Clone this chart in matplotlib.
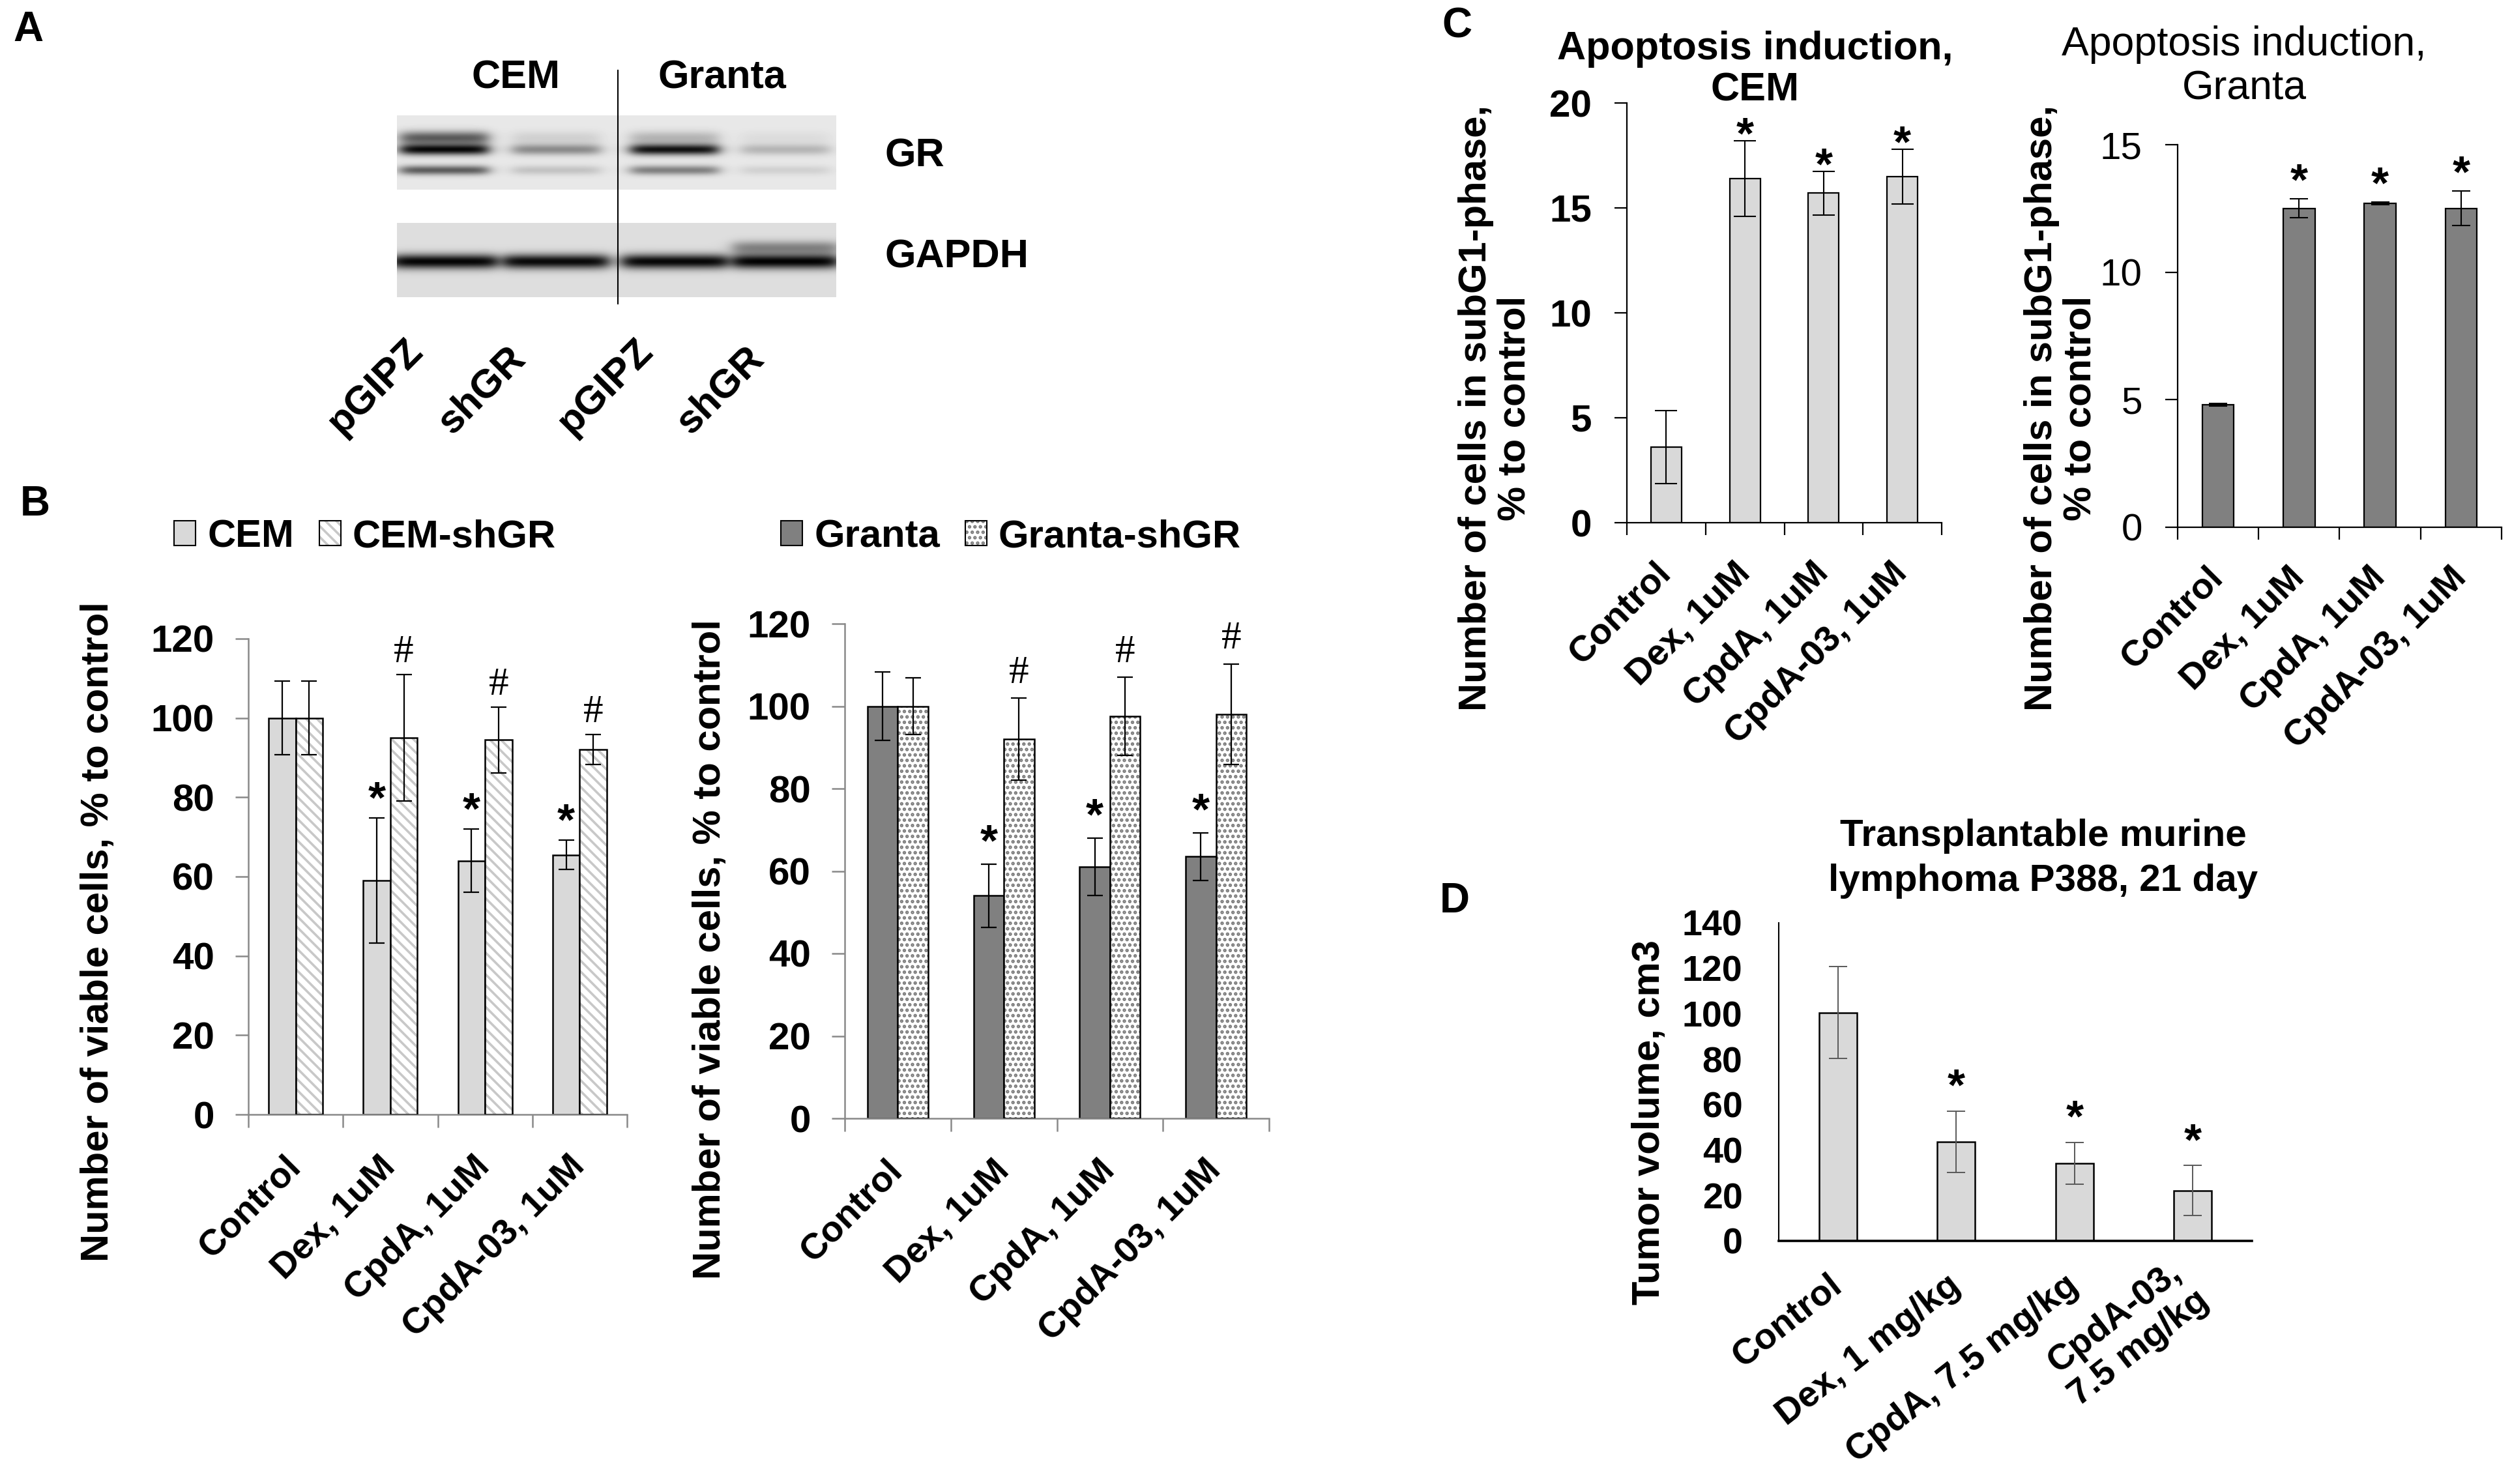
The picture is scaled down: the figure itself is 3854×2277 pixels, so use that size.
import numpy as np
import matplotlib
matplotlib.use("Agg")
import matplotlib.pyplot as plt
from matplotlib.patches import Patch
from matplotlib.lines import Line2D

# ---------------- data ----------------
# A: western blot (band darkness per lane, 0..1)
blot_lanes = ['pGIPZ', 'shGR', 'pGIPZ', 'shGR']
blot_groups = ['CEM', 'Granta']
gr_main = [0.95, 0.40, 0.92, 0.22]
gr_upper = [0.60, 0.10, 0.22, 0.05]
gr_lower = [0.60, 0.16, 0.45, 0.10]
gapdh_band = [0.98, 0.96, 0.97, 0.99]
gapdh_smudge = [0.0, 0.0, 0.0, 0.40]

# B: viability
treatments = ['Control', 'Dex, 1uM', 'CpdA, 1uM', 'CpdA-03, 1uM']
cem_viable = [100, 59, 64, 65.5]
cem_viable_err = [9.3, 15.8, 8.0, 3.7]
cem_sh_viable = [100, 95, 94.5, 92]
cem_sh_viable_err = [9.3, 16.0, 8.3, 3.8]
granta_viable = [100, 54, 61, 63.5]
granta_viable_err = [8.3, 7.7, 7.0, 5.8]
granta_sh_viable = [100, 92, 97.5, 98]
granta_sh_viable_err = [6.9, 9.9, 9.5, 12.2]
star_marks = ['', '*', '*', '*']
hash_marks = ['', '#', '#', '#']

# C: apoptosis
cem_apo = [3.6, 16.4, 15.7, 16.5]
cem_apo_err = [1.75, 1.8, 1.05, 1.3]
granta_apo = [4.8, 12.5, 12.7, 12.5]
granta_apo_err = [0.05, 0.37, 0.05, 0.68]

# D: tumour volume
tumor_groups = ['Control', 'Dex, 1 mg/kg', 'CpdA, 7.5 mg/kg', 'CpdA-03,\n7.5 mg/kg']
tumor_volume = [100.5, 43.6, 34.1, 22.2]
tumor_err = [20.3, 13.6, 9.2, 11.0]

# ---------------- figure ----------------
plt.rcParams['font.family'] = ['Liberation Sans', 'DejaVu Sans']
plt.rcParams['hatch.linewidth'] = 2.6

W, H = 3855, 2277
fig = plt.figure(figsize=(W / 100, H / 100), dpi=100)
fig.patch.set_facecolor('white')


def fx(x):
    return x / W


def fy(y):
    return 1 - y / H


def box(x0, y0, x1, y1):
    return [x0 / W, 1 - y1 / H, (x1 - x0) / W, (y1 - y0) / H]


LIGHT = '#d9d9d9'
DARK = '#808080'

# panel letters
for letter, (px, py) in zip('ABCD', [(43, 46), (54, 774), (2235, 41), (2232, 1383)]):
    fig.text(fx(px), fy(py), letter, ha='center', va='center', fontsize=46, weight='bold')


# ---------------- A: blot ----------------
def blot_image(bands, half_w, bg, ny=114, nx=674):
    lane_x = [0.43, 1.45, 2.53, 3.54]
    yy = np.linspace(0, 1, ny)[:, None]
    xx = np.linspace(0, 4, nx)[None, :]
    dark = np.zeros((ny, nx))
    for row, sigma, levels in bands:
        for cx, lev in zip(lane_x, levels):
            lane = 1 / (1 + np.exp((np.abs(xx - cx) - half_w) / 0.04))
            dark += lev * lane * np.exp(-((yy - row) / sigma) ** 2)
    return bg * (1 - np.clip(dark, 0, 1))


gr_img = blot_image([(0.46, 0.075, gr_main), (0.30, 0.09, gr_upper), (0.74, 0.065, gr_lower)], 0.40, 0.91)
gapdh_img = blot_image([(0.52, 0.10, gapdh_band), (0.33, 0.09, gapdh_smudge)], 0.48, 0.87)

for img, rect in [(gr_img, box(609, 177, 1283, 291)), (gapdh_img, box(609, 342, 1283, 456))]:
    bax = fig.add_axes(rect)
    bax.imshow(img, cmap='gray', vmin=0, vmax=1, aspect='auto', interpolation='bilinear')
    bax.axis('off')

fig.add_artist(Line2D([fx(948), fx(948)], [fy(108), fy(466)], color='black', lw=1.5))
fig.text(fx(792), fy(120), blot_groups[0], ha='center', va='center', fontsize=44, weight='bold')
fig.text(fx(1108), fy(120), blot_groups[1], ha='center', va='center', fontsize=44, weight='bold')
fig.text(fx(1358), fy(240), 'GR', ha='left', va='center', fontsize=44, weight='bold')
fig.text(fx(1358), fy(395), 'GAPDH', ha='left', va='center', fontsize=44, weight='bold')
for lab, sx in zip(blot_lanes, [524, 694, 877, 1060]):
    fig.text(fx(sx), fy(668), lab, ha='left', va='baseline', rotation=45,
             rotation_mode='anchor', fontsize=44, weight='bold')


# ---------------- helpers ----------------
def style_axes(ax, ncat, spine_color, lw, tick_len, label_pad):
    for s in ['top', 'right']:
        ax.spines[s].set_visible(False)
    for s in ['left', 'bottom']:
        ax.spines[s].set_color(spine_color)
        ax.spines[s].set_linewidth(lw)
    ax.set_xlim(-0.5, ncat - 0.5)
    ax.set_xticks(np.arange(ncat + 1) - 0.5)
    ax.tick_params(axis='x', which='major', length=tick_len, width=lw, color=spine_color,
                   labelbottom=False)
    ax.tick_params(axis='y', length=tick_len, width=lw, color=spine_color, pad=label_pad)


def put_marks(ax, xs, ys, marks, fs, family, weight, center):
    for xi, yi, m in zip(xs, ys, marks):
        if m:
            ax.annotate(m, (xi, yi), xytext=(0, -center * fs), textcoords='offset points',
                        ha='center', va='baseline', fontsize=fs, family=family, weight=weight,
                        annotation_clip=False)


def two_line_title(cx, y1, y2, l1, l2, fs, weight):
    fig.text(fx(cx), fy(y1), l1, ha='center', va='center', fontsize=fs, weight=weight)
    fig.text(fx(cx), fy(y2), l2, ha='center', va='center', fontsize=fs, weight=weight)


# ---------------- B: viability ----------------
x = np.arange(len(treatments))
w = 0.285
GREY_SPINE = '#898989'


def viability(rect, a, a_err, b, b_err, a_color, b_hatch, b_hatch_color, names, ylab_x, ylab_y,
              leg_x, star_off, hash_off):
    ax = fig.add_axes(rect)
    ax.bar(x - w / 2, a, w, color=a_color, edgecolor='black', linewidth=1.8, zorder=2)
    ax.bar(x + w / 2, b, w, color='white', edgecolor=b_hatch_color, hatch=b_hatch, linewidth=0, zorder=2)
    ax.bar(x + w / 2, b, w, color='none', edgecolor='black', linewidth=1.8, zorder=3)
    ax.errorbar(x - w / 2, a, yerr=a_err, fmt='none', ecolor='black', elinewidth=1.6,
                capsize=8.5, capthick=1.6, zorder=4)
    ax.errorbar(x + w / 2, b, yerr=b_err, fmt='none', ecolor='black', elinewidth=1.6,
                capsize=8.5, capthick=1.6, zorder=4)
    ax.set_ylim(0, 120)
    ax.set_yticks(range(0, 121, 20))
    style_axes(ax, len(treatments), GREY_SPINE, 1.8, 14.5, 23)
    ax.set_xticks(x, treatments, minor=True, rotation=45, ha='right', va='center',
                  rotation_mode='anchor', fontsize=40, weight='bold')
    ax.tick_params(axis='x', which='minor', length=0, pad=52)
    for t in ax.get_yticklabels():
        t.set_fontsize(42)
        t.set_fontweight('bold')
    put_marks(ax, x - w / 2, np.add(a, a_err) + star_off, star_marks, 50, 'Liberation Sans', 'bold', 0.58)
    put_marks(ax, x + w / 2, np.add(b, b_err) + hash_off, hash_marks, 44, 'Liberation Serif', 'normal', 0.34)
    fig.text(fx(ylab_x), fy(ylab_y), 'Number of viable cells, % to control', rotation=90,
             ha='center', va='center', fontsize=43, weight='bold')
    h1 = Patch(facecolor=a_color, edgecolor='black', linewidth=1.5)
    h2 = (Patch(facecolor='white', edgecolor=b_hatch_color, hatch=b_hatch, linewidth=0),
          Patch(facecolor='none', edgecolor='black', linewidth=1.5))
    ax.legend([h1, h2], names, loc='center', bbox_to_anchor=(fx(leg_x), fy(824)),
              bbox_transform=fig.transFigure, ncol=2, frameon=False,
              prop={'size': 43, 'weight': 'bold'}, handlelength=0.55, handleheight=0.6,
              handletextpad=0.3, columnspacing=0.65, borderpad=0)
    return ax


viability(box(381, 980, 962, 1710), cem_viable, cem_viable_err, cem_sh_viable, cem_sh_viable_err,
          LIGHT, '\\\\', '#c8c8c8', ['CEM', 'CEM-shGR'], 151, 1430, 560, 8.0, 6.5)
viability(box(1296, 957, 1947, 1716), granta_viable, granta_viable_err, granta_sh_viable,
          granta_sh_viable_err, DARK, '..', '#7a7a7a', ['Granta', 'Granta-shGR'], 1090, 1457, 1551,
          8.5, 7.0)


# ---------------- C: apoptosis ----------------
def apoptosis(rect, vals, errs, color, ymax, tick_weight, cap, ylab_xy, star_off):
    ax = fig.add_axes(rect)
    ax.bar(x, vals, 0.39, color=color, edgecolor='black', linewidth=1.6, zorder=2)
    ax.errorbar(x, vals, yerr=errs, fmt='none', ecolor='black', elinewidth=1.5, capsize=cap,
                capthick=1.5, zorder=3)
    ax.set_ylim(0, ymax)
    ax.set_yticks(np.arange(0, ymax + 0.1, 5))
    style_axes(ax, len(treatments), 'black', 1.6, 14, 25)
    ax.set_xticks(x, treatments, minor=True, rotation=45, ha='right', va='center',
                  rotation_mode='anchor', fontsize=40, weight='bold')
    ax.tick_params(axis='x', which='minor', length=0, pad=50)
    for t in ax.get_yticklabels():
        t.set_fontsize(42)
        t.set_fontweight(tick_weight)
    put_marks(ax, x, np.add(vals, errs) + star_off, star_marks, 50, 'Liberation Sans', 'bold', 0.58)
    fig.text(fx(ylab_xy[0]), fy(ylab_xy[1]), 'Number of cells in subG1-phase,\n% to control',
             rotation=90, ha='center', va='center', fontsize=43, weight='bold', linespacing=1.1)
    return ax


apoptosis(box(2496, 158, 2979, 802), cem_apo, cem_apo_err, LIGHT, 20, 'bold', 12.5, (2294, 626), 0.9)
two_line_title(2693, 76, 139, 'Apoptosis induction,', 'CEM', 44, 'bold')
apoptosis(box(3341, 222, 3838, 809), granta_apo, granta_apo_err, DARK, 15, 'normal', 10, (3162, 626), 1.2)
two_line_title(3443, 68, 136, 'Apoptosis induction,', 'Granta', 45, 'normal')

# ---------------- D: tumour volume ----------------
axd = fig.add_axes(box(2729, 1416, 3455, 1904))
xd = np.arange(len(tumor_groups))
axd.bar(xd, tumor_volume, 0.32, color=LIGHT, edgecolor='black', linewidth=1.8, zorder=2)
axd.errorbar(xd, tumor_volume, yerr=tumor_err, fmt='none', ecolor='#595959', elinewidth=1.4,
             capsize=10, capthick=1.4, zorder=3)
axd.set_ylim(0, 140)
axd.set_yticks(range(0, 141, 20))
for s in ['top', 'right']:
    axd.spines[s].set_visible(False)
axd.spines['left'].set_linewidth(1.5)
axd.spines['bottom'].set_linewidth(2.6)
axd.set_xlim(-0.5, len(tumor_groups) - 0.5)
axd.set_xticks(xd, tumor_groups, rotation=38, ha='right', va='center', rotation_mode='anchor',
               fontsize=40, weight='bold', multialignment='center')
axd.tick_params(axis='x', length=0, pad=45)
axd.tick_params(axis='y', length=0, pad=40)
for t in axd.get_yticklabels():
    t.set_fontsize(40)
    t.set_fontweight('bold')
put_marks(axd, xd, np.add(tumor_volume, tumor_err) + 16.5, star_marks, 50, 'Liberation Sans', 'bold', 0.58)
two_line_title(3135, 1283, 1352, 'Transplantable murine', 'lymphoma P388, 21 day', 42, 'bold')
fig.text(fx(2531), fy(1722), 'Tumor volume, cm3', rotation=90, ha='center', va='center',
         fontsize=43, weight='bold')

fig.savefig('out.png', dpi=100, facecolor='white')
